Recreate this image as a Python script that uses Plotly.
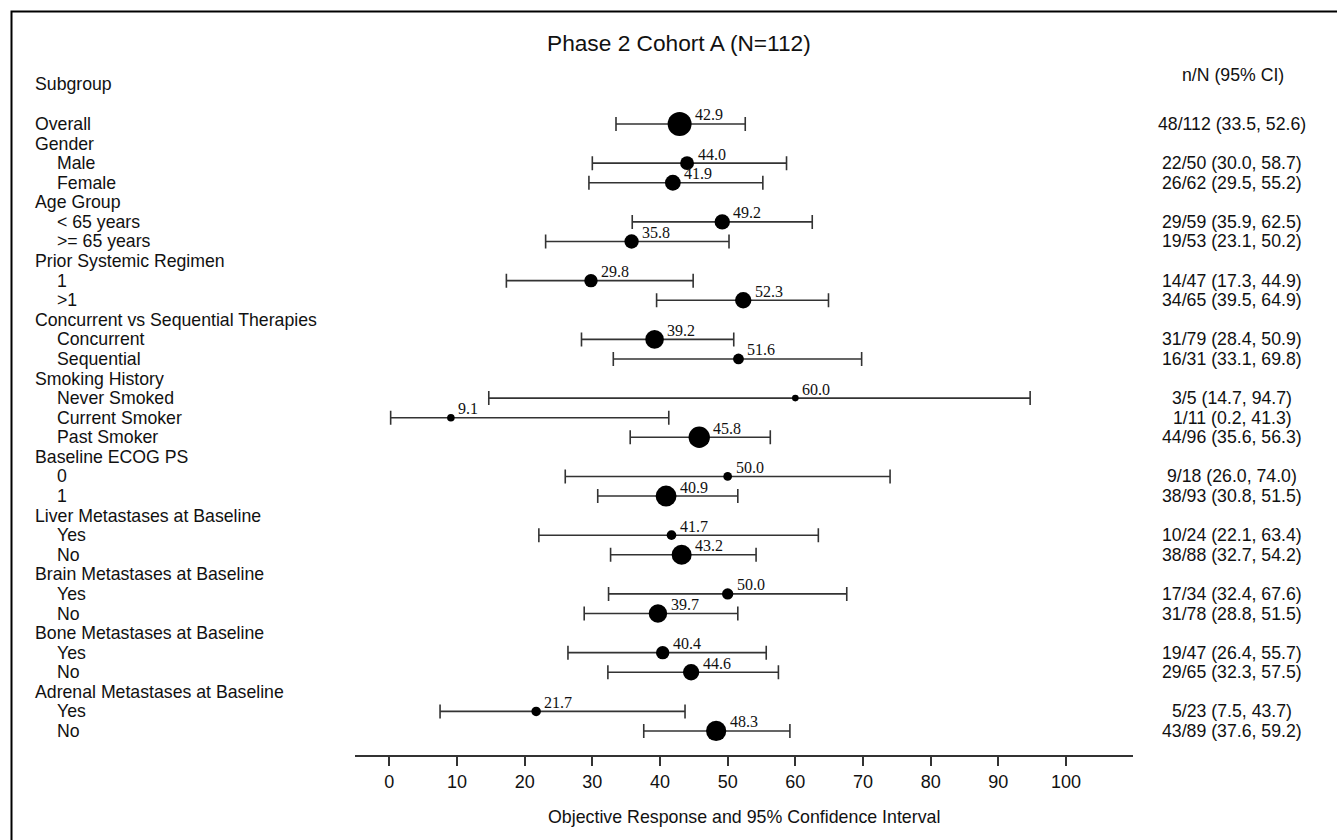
import plotly.graph_objects as go

# ---- data -------------------------------------------------------------
row_labels = [
    "Overall", "Gender", "Male", "Female", "Age Group", "< 65 years", ">= 65 years",
    "Prior Systemic Regimen", "1", ">1",
    "Concurrent vs Sequential Therapies", "Concurrent", "Sequential",
    "Smoking History", "Never Smoked", "Current Smoker", "Past Smoker",
    "Baseline ECOG PS", "0", "1",
    "Liver Metastases at Baseline", "Yes", "No",
    "Brain Metastases at Baseline", "Yes", "No",
    "Bone Metastases at Baseline", "Yes", "No",
    "Adrenal Metastases at Baseline", "Yes", "No",
]
# 0 = group heading / overall, 1 = indented subgroup level
row_levels = [0, 0, 1, 1, 0, 1, 1, 0, 1, 1, 0, 1, 1, 0, 1, 1, 1,
              0, 1, 1, 0, 1, 1, 0, 1, 1, 0, 1, 1, 0, 1, 1]

# rows that carry an estimate
data_rows = [0, 2, 3, 5, 6, 8, 9, 11, 12, 14, 15, 16, 18, 19,
             21, 22, 24, 25, 27, 28, 30, 31]
responders = [48, 22, 26, 29, 19, 14, 34, 31, 16, 3, 1, 44, 9, 38,
              10, 38, 17, 31, 19, 29, 5, 43]
totals = [112, 50, 62, 59, 53, 47, 65, 79, 31, 5, 11, 96, 18, 93,
          24, 88, 34, 78, 47, 65, 23, 89]
orr = [42.9, 44.0, 41.9, 49.2, 35.8, 29.8, 52.3, 39.2, 51.6, 60.0, 9.1, 45.8,
       50.0, 40.9, 41.7, 43.2, 50.0, 39.7, 40.4, 44.6, 21.7, 48.3]
ci_low = [33.5, 30.0, 29.5, 35.9, 23.1, 17.3, 39.5, 28.4, 33.1, 14.7, 0.2, 35.6,
          26.0, 30.8, 22.1, 32.7, 32.4, 28.8, 26.4, 32.3, 7.5, 37.6]
ci_high = [52.6, 58.7, 55.2, 62.5, 50.2, 44.9, 64.9, 50.9, 69.8, 94.7, 41.3, 56.3,
           74.0, 51.5, 63.4, 54.2, 67.6, 51.5, 55.7, 57.5, 43.7, 59.2]

x_ticks = [0, 10, 20, 30, 40, 50, 60, 70, 80, 90, 100]

# ---- layout constants (pixels on a 1337 x 840 canvas) ----------------------
W, H = 1337, 840
SANS = "Arial, Liberation Sans, sans-serif"
SERIF = "Times New Roman, Liberation Serif, serif"
INK = "#111111"
LINE = "#333333"
TXT = 17.7

def px_x(p):
    return p / W

def px_y(p):
    return 1 - p / H

# marker diameter grows with subgroup size
sizes = [5.8 + 0.162 * n for n in totals]

fig = go.Figure()

fig.add_trace(go.Scatter(
    x=orr,
    y=data_rows,
    mode="markers",
    marker=dict(color="black", size=sizes, opacity=1, line=dict(width=0)),
    error_x=dict(
        type="data",
        symmetric=False,
        array=[h - e for h, e in zip(ci_high, orr)],
        arrayminus=[e - l for e, l in zip(orr, ci_low)],
        color=LINE,
        thickness=1.6,
        width=7,
    ),
    hoverinfo="skip",
    showlegend=False,
))

annotations = []

# estimate labels above-right of each marker
for x, r, s in zip(orr, data_rows, sizes):
    annotations.append(dict(
        x=x, y=r, xref="x", yref="y",
        text=f"{x:.1f}", showarrow=False,
        xanchor="left", yanchor="middle",
        xshift=s / 2 + 3.5, yshift=9,
        borderpad=0, borderwidth=0,
        font=dict(family=SERIF, size=16, color=INK),
    ))

# subgroup names on the left
for i, (lab, lev) in enumerate(zip(row_labels, row_levels)):
    annotations.append(dict(
        x=px_x(35 + 22 * lev), y=i, xref="paper", yref="y",
        text=lab, showarrow=False, xanchor="left", yanchor="middle",
        borderpad=0, borderwidth=0,
        font=dict(family=SANS, size=TXT, color=INK),
    ))

# n/N (95% CI) column on the right
for r, a, n, lo, hi in zip(data_rows, responders, totals, ci_low, ci_high):
    annotations.append(dict(
        x=px_x(1232), y=r, xref="paper", yref="y",
        text=f"{a}/{n} ({lo:.1f}, {hi:.1f})", showarrow=False,
        xanchor="center", yanchor="middle",
        borderpad=0, borderwidth=0,
        font=dict(family=SANS, size=TXT, color=INK),
    ))

# headers, title and axis title
annotations += [
    dict(x=px_x(35), y=px_y(84), xref="paper", yref="paper", text="Subgroup",
         showarrow=False, xanchor="left", yanchor="middle", borderpad=0, borderwidth=0,
         font=dict(family=SANS, size=TXT, color=INK)),
    dict(x=px_x(1233), y=px_y(75), xref="paper", yref="paper", text="n/N (95% CI)",
         showarrow=False, xanchor="center", yanchor="middle", borderpad=0, borderwidth=0,
         font=dict(family=SANS, size=TXT, color=INK)),
    dict(x=px_x(679), y=px_y(43), xref="paper", yref="paper",
         text="Phase 2 Cohort A (N=112)",
         showarrow=False, xanchor="center", yanchor="middle", borderpad=0, borderwidth=0,
         font=dict(family=SANS, size=22.7, color=INK)),
    dict(x=px_x(744), y=px_y(817), xref="paper", yref="paper",
         text="Objective Response and 95% Confidence Interval",
         showarrow=False, xanchor="center", yanchor="middle", borderpad=0, borderwidth=0,
         font=dict(family=SANS, size=17.8, color=INK)),
]

ROW0_PX, ROW_STEP = 124.0, 19.58
AX_PX, TOP_PX = 755.0, 60.0

fig.update_layout(
    width=W, height=H,
    margin=dict(l=0, r=0, t=0, b=0),
    paper_bgcolor="white",
    plot_bgcolor="white",
    annotations=annotations,
    xaxis=dict(
        domain=[px_x(355), px_x(1133)],
        range=[-5.07, 109.9],
        tickvals=x_ticks,
        ticktext=[str(t) for t in x_ticks],
        showline=True, linewidth=2, linecolor=LINE,
        ticks="outside", ticklen=9, tickwidth=1.6, tickcolor=LINE,
        tickfont=dict(family=SANS, size=18, color=INK),
        showgrid=False, zeroline=False,
    ),
    yaxis=dict(
        domain=[1 - AX_PX / H, 1 - TOP_PX / H],
        range=[(AX_PX - ROW0_PX) / ROW_STEP, (TOP_PX - ROW0_PX) / ROW_STEP],
        visible=False, showgrid=False, zeroline=False,
    ),
    shapes=[dict(
        type="rect", xref="paper", yref="paper",
        x0=px_x(11.5), x1=px_x(1400), y0=px_y(11.5), y1=px_y(900),
        line=dict(color="black", width=2), fillcolor="rgba(0,0,0,0)",
    )],
)

fig.write_html("out.html")
